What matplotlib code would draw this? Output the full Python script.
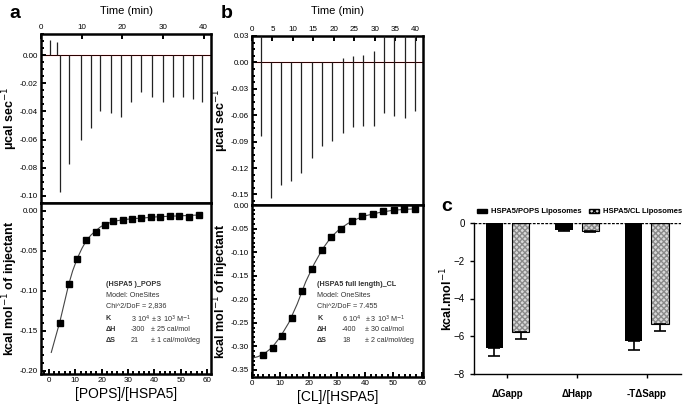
import numpy as np
import matplotlib.pyplot as plt
from matplotlib.patches import Patch

plt.rcParams['font.family'] = ['Liberation Sans Narrow', 'Liberation Sans', 'DejaVu Sans']

# ---- panel a raw thermogram (HSPA5 / POPS)
a_inj_t = [4.7, 7.0, 9.8, 12.3, 14.5, 17.2, 19.6, 22.2, 24.7, 27.2, 29.9, 32.4, 34.8, 37.3, 39.6]
a_inj_h = [-0.097, -0.077, -0.060, -0.0515, -0.040, -0.041, -0.0437, -0.033, -0.0265,
           -0.0295, -0.033, -0.0295, -0.0295, -0.031, -0.0335]
a_up_t = [2.3, 3.9]
a_up_h = [0.011, 0.009]

# ---- panel b raw thermogram (HSPA5 / CL)
b_inj_t = [2.1, 4.6, 7.1, 9.6, 12.0, 14.6, 17.1, 19.6, 22.2, 24.7, 27.2, 29.8, 32.2, 34.8, 37.3, 39.8]
b_inj_h = [-0.0835, -0.154, -0.139, -0.135, -0.126, -0.109, -0.095, -0.089, -0.080,
           -0.073, -0.072, -0.072, -0.058, -0.061, -0.063, -0.055]
b_up_t = [2.1, 22.2, 24.7, 27.2, 29.8, 32.2, 34.8, 37.3, 39.8]
b_up_h = [0.030, 0.005, 0.007, 0.008, 0.013, 0.030, 0.030, 0.030, 0.030]

# ---- integrated heats
a_ratio = [4.2, 7.5, 10.8, 14.2, 17.7, 21.1, 24.5, 28.1, 31.7, 35.1, 38.6, 42.3, 45.9, 49.4, 53.1, 57.1]
a_heat = [-0.140, -0.0917, -0.0596, -0.0367, -0.026, -0.018, -0.0125, -0.011, -0.0096,
          -0.0092, -0.0079, -0.0071, -0.0067, -0.0062, -0.0071, -0.005]
a_fit_x = [0.9, 2.5, 4.2, 6.0, 7.5, 9.0, 10.8, 12.5, 14.2, 16.0, 17.7, 19.5, 21.1, 24.5,
           28.0, 32.0, 35.0, 40.0, 45.0, 50.0, 57.1]
a_fit_y = [-0.177, -0.158, -0.138, -0.113, -0.092, -0.075, -0.059, -0.047, -0.037, -0.030,
           -0.025, -0.020, -0.017, -0.013, -0.011, -0.0095, -0.009, -0.0075, -0.0067, -0.006, -0.005]

b_ratio = [4.0, 7.4, 10.7, 14.05, 17.7, 21.1, 24.7, 28.1, 31.65, 35.5, 39.0, 42.8, 46.5, 50.1, 53.9, 57.5]
b_heat = [-0.3175, -0.3027, -0.278, -0.240, -0.182, -0.135, -0.096, -0.0686, -0.050,
          -0.0332, -0.024, -0.0198, -0.0127, -0.0113, -0.0085, -0.0092]
b_fit_x = [0, 2, 4, 7, 10, 13, 16, 19, 22, 25, 28, 31, 34, 37, 40, 45, 50, 55, 58]
b_fit_y = [-0.325, -0.322, -0.317, -0.303, -0.280, -0.250, -0.210, -0.163, -0.125, -0.093,
           -0.068, -0.051, -0.039, -0.030, -0.023, -0.016, -0.011, -0.009, -0.008]

# ---- panel c thermodynamics
c_terms = ['ΔGapp', 'ΔHapp', '-TΔSapp']
c_pops = [-6.6, -0.35, -6.25]
c_pops_err = [0.45, 0.06, 0.5]
c_cl = [-5.75, -0.42, -5.35]
c_cl_err = [0.42, 0.05, 0.38]

W, H = 684, 409
fig = plt.figure(figsize=(W / 100, H / 100), dpi=100)


def px_axes(l, t, r, b):
    return fig.add_axes([l / W, 1 - b / H, (r - l) / W, (b - t) / H])


def style(ax):
    for s in ax.spines.values():
        s.set_linewidth(1.8)
    ax.tick_params(direction='in', which='both', labelsize=5.8, width=1.4, pad=2)
    ax.tick_params(which='major', length=3.5)
    ax.tick_params(which='minor', length=2)


def raw_panel(l, t, r, b, inj_t, inj_h, up_t, up_h, ylim, yticks, xticks, ylx):
    ax = px_axes(l, t, r, b)
    ax.plot([0, 42], [0, 0], color='red', lw=0.8, zorder=1)
    ax.plot([0, 42], [0, 0], color='k', lw=0.6, zorder=2)
    ax.vlines(inj_t, 0, inj_h, color='#222222', lw=0.9, zorder=3)
    ax.vlines(up_t, 0, up_h, color='#222222', lw=0.9, zorder=3)
    ax.set_xlim(0, 41.8)
    ax.set_ylim(*ylim)
    ax.set_yticks(yticks)
    ax.set_yticklabels(['%.2f' % v for v in yticks])
    ax.set_xticks(xticks)
    ax.xaxis.tick_top()
    ax.xaxis.set_label_position('top')
    ax.set_xlabel('Time (min)', fontsize=8)
    ax.xaxis.set_label_coords(0.5, 1 + (t - 14) / (b - t))
    ax.set_ylabel('μcal sec$^{-1}$', fontsize=9, fontweight='bold')
    ax.yaxis.set_label_coords((ylx - l) / (r - l), 0.5)
    ax.minorticks_on()
    ax.tick_params(axis='x', which='minor', top=False, bottom=False)
    style(ax)
    return ax


def heat_panel(l, t, r, b, ratio, heat, fx, fy, xlim, ylim, yticks, xlabel, ylx, xly):
    ax = px_axes(l, t, r, b)
    ax.plot(fx, fy, color='#444444', lw=0.8)
    ax.plot(ratio, heat, 's', color='k', ms=4.2)
    ax.set_xlim(*xlim)
    ax.set_ylim(*ylim)
    ax.set_yticks(yticks)
    ax.set_yticklabels(['%.2f' % v for v in yticks])
    ax.set_xticks([0, 10, 20, 30, 40, 50, 60])
    ax.minorticks_on()
    ax.set_xlabel(xlabel, fontsize=10)
    ax.xaxis.set_label_coords(0.5, -(xly - b) / (b - t))
    ax.set_ylabel('kcal mol$^{-1}$ of injectant', fontsize=9, fontweight='bold')
    ax.yaxis.set_label_coords((ylx - l) / (r - l), 0.5)
    style(ax)
    return ax


def fit_text(x0, y0, title, chi, k, dh, ds, dx1, dx2):
    fs = 5.2
    y = y0
    dy = 10.5
    for txt, bold in [(title, True), ('Model: OneSites', False), (chi, False)]:
        fig.text(x0 / W, 1 - y / H, txt, fontsize=fs, color='#333333',
                 fontweight='bold' if bold else 'normal', va='center')
        y += dy
    y += 2.5
    for lab, v1, v2 in [('K', k[0], k[1]), ('ΔH', dh[0], dh[1]), ('ΔS', ds[0], ds[1])]:
        fig.text(x0 / W, 1 - y / H, lab, fontsize=fs, color='#333333', fontweight='bold', va='center')
        fig.text((x0 + dx1) / W, 1 - y / H, v1, fontsize=fs, color='#333333', va='center')
        fig.text((x0 + dx2) / W, 1 - y / H, v2, fontsize=fs, color='#333333', va='center')
        y += dy


# panel a
axa1 = raw_panel(41, 34, 211, 203, a_inj_t, a_inj_h, a_up_t, a_up_h,
                 (-0.105, 0.015), [0.0, -0.02, -0.04, -0.06, -0.08, -0.10], [0, 10, 20, 30, 40], 20)
axa2 = heat_panel(41, 203, 211, 374, a_ratio, a_heat, a_fit_x, a_fit_y, (-3, 61.5),
                  (-0.204, 0.01), [0.0, -0.05, -0.10, -0.15, -0.20], '[POPS]/[HSPA5]', 20, 387)
fit_text(106, 285, '(HSPA5 )_POPS', 'Chi^2/DoF = 2,836',
         ('3 10$^4$', '± 3 10$^3$ M$^{-1}$'), ('-300', '± 25 cal/mol'), ('21', '± 1 cal/mol/deg'),
         25, 45)

# panel b
axb1 = raw_panel(252, 36, 423, 205, b_inj_t, b_inj_h, b_up_t, b_up_h,
                 (-0.162, 0.03), [0.03, 0.0, -0.03, -0.06, -0.09, -0.12, -0.15],
                 [0, 5, 10, 15, 20, 25, 30, 35, 40], 231)
axb2 = heat_panel(252, 205, 423, 377, b_ratio, b_heat, b_fit_x, b_fit_y, (0, 60.5),
                  (-0.365, 0.0), [0.0, -0.05, -0.10, -0.15, -0.20, -0.25, -0.30, -0.35],
                  '[CL]/[HSPA5]', 231, 390)
fit_text(317, 285, '(HSPA5 full length)_CL', 'Chi^2/DoF = 7.455',
         ('6 10$^4$', '± 3 10$^3$ M$^{-1}$'), ('-400', '± 30 cal/mol'), ('18', '± 2 cal/mol/deg'),
         25, 48)

# panel c
axc = px_axes(474, 223, 681, 374)
x = np.arange(len(c_terms))
bw = 0.25
axc.bar(x - 0.19, c_pops, bw, color='black', zorder=2)
axc.errorbar(x - 0.19, c_pops, yerr=[c_pops_err, [0] * 3], fmt='none', ecolor='black',
             elinewidth=1.2, capsize=4, capthick=1.2, zorder=3)
axc.bar(x + 0.19, c_cl, bw, color='#d9d9d9', edgecolor='#8a8a8a', hatch='xxxxxx', lw=0, zorder=2)
axc.bar(x + 0.19, c_cl, bw, color='none', edgecolor='black', lw=0.8, zorder=2)
axc.errorbar(x + 0.19, c_cl, yerr=[c_cl_err, [0] * 3], fmt='none', ecolor='black',
             elinewidth=1.2, capsize=4, capthick=1.2, zorder=3)
axc.axhline(0, color='black', lw=1.0, ls=(0, (2, 1)), zorder=4)
axc.set_xlim(-0.48, 2.49)
axc.set_ylim(-8, 0)
axc.set_yticks([0, -2, -4, -6, -8])
axc.set_xticks(x)
axc.set_xticklabels(c_terms, fontsize=7, fontweight='bold')
axc.tick_params(axis='y', labelsize=7, direction='out', length=3, width=1)
axc.tick_params(axis='x', direction='out', length=3, width=1, pad=8)
for s in ['top', 'right']:
    axc.spines[s].set_visible(False)
axc.spines['left'].set_linewidth(1.0)
axc.spines['bottom'].set_linewidth(1.0)
axc.set_ylabel('kcal.mol$^{-1}$', fontsize=9, fontweight='bold')
axc.yaxis.set_label_coords((455 - 474) / 207, 0.5)
handles = [Patch(facecolor='black', edgecolor='black'),
           Patch(facecolor='#d9d9d9', edgecolor='black', hatch='xxxxxx')]
axc.legend(handles, ['HSPA5/POPS Liposomes', 'HSPA5/CL Liposomes'], loc='lower center',
           bbox_to_anchor=(0.51, 1.03), ncol=2, frameon=False, handlelength=1.4, handleheight=0.45,
           columnspacing=0.9, handletextpad=0.5, borderaxespad=0,
           prop={'size': 5.5, 'weight': 'bold'})

# panel letters
for lab, xp, yp in [('a', 15, 14), ('b', 227, 14), ('c', 447, 207)]:
    fig.text(xp / W, 1 - yp / H, lab, fontsize=14, fontweight='bold', ha='center', va='center',
             family=['Liberation Sans', 'DejaVu Sans'])

fig.savefig('out.png', dpi=100)
